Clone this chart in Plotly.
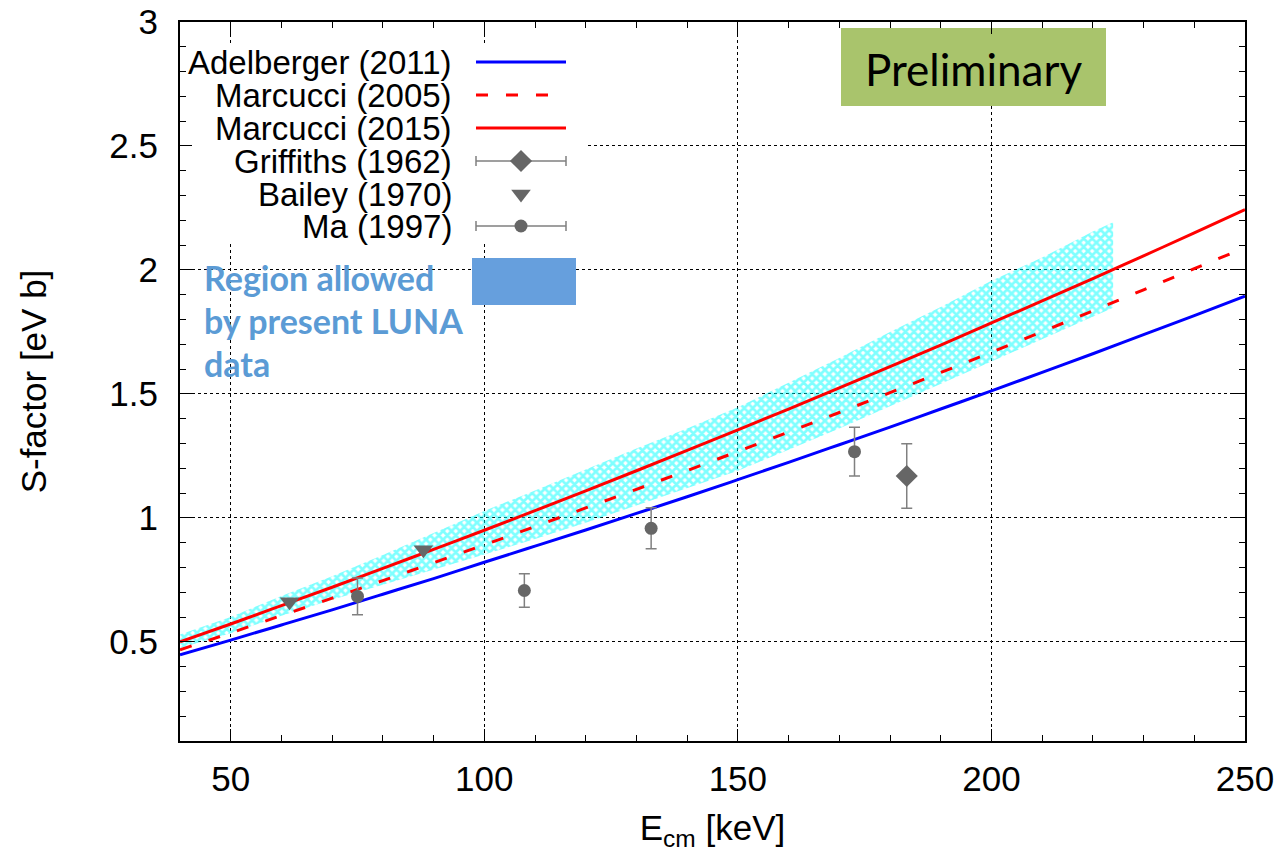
import plotly.graph_objects as go

# ---------------- data ----------------
E_curve = [40, 50, 60, 70, 80, 90, 100, 110, 120, 130, 140, 150, 160, 170, 180,
           190, 200, 210, 220, 230, 240, 250]
adelberger_2011 = [0.448, 0.507, 0.568, 0.629, 0.692, 0.755, 0.821, 0.886, 0.951, 1.018,
                   1.085, 1.154, 1.224, 1.295, 1.366, 1.439, 1.512, 1.587, 1.662, 1.739,
                   1.816, 1.894]
marcucci_2005 = [0.468, 0.536, 0.606, 0.676, 0.747, 0.819, 0.891, 0.965, 1.040, 1.115,
                 1.191, 1.268, 1.346, 1.425, 1.505, 1.586, 1.668, 1.751, 1.835, 1.920,
                 2.005, 2.090]
marcucci_2015 = [0.500, 0.572, 0.646, 0.720, 0.796, 0.873, 0.950, 1.029, 1.109, 1.190,
                 1.272, 1.355, 1.439, 1.524, 1.610, 1.697, 1.786, 1.875, 1.965, 2.057,
                 2.149, 2.243]

band_E = [40, 50, 60, 70, 80, 90, 100, 110, 120, 130, 140, 150, 160, 170, 180, 190,
          200, 210, 220, 224]
band_low = [0.475, 0.535, 0.605, 0.670, 0.730, 0.790, 0.852, 0.915, 0.980, 1.050,
            1.120, 1.190, 1.275, 1.360, 1.450, 1.540, 1.630, 1.720, 1.810, 1.847]
band_high = [0.530, 0.600, 0.685, 0.765, 0.850, 0.940, 1.028, 1.110, 1.195, 1.280,
             1.360, 1.446, 1.545, 1.645, 1.750, 1.850, 1.956, 2.050, 2.155, 2.192]

griffiths_E = [183.3]
griffiths_S = [1.169]
griffiths_err = [0.130]

bailey_E = [61.6, 88.0]
bailey_S = [0.662, 0.871]

ma_E = [75.0, 107.9, 132.9, 173.0]
ma_S = [0.683, 0.707, 0.958, 1.267]
ma_err = [0.074, 0.068, 0.083, 0.098]

legend_labels = ["Adelberger (2011)", "Marcucci (2005)", "Marcucci (2015)",
                 "Griffiths (1962)", "Bailey (1970)", "Ma (1997)"]

# ---------------- styling ----------------
BLUE = "#0000ff"
RED = "#ff0000"
MARK = "#666666"
ERR = "#808080"
FONT = "Liberation Sans, Arial, Helvetica, sans-serif"
CAL = "Lato, Open Sans, sans-serif"

W, H = 1284, 854
L, R, T, B = 180, 1245, 22, 741   # plot-area pixel frame
XR = [40, 250]
YR = [0.1, 3]


def px2x(px):
    return XR[0] + (px - L) * (XR[1] - XR[0]) / (R - L)


def py2y(py):
    return YR[1] - (py - T) * (YR[1] - YR[0]) / (B - T)


fig = go.Figure()

# allowed region (cross hatched band)
fig.add_trace(go.Scatter(x=band_E, y=band_low, mode="lines",
                         line=dict(width=0, color="rgba(0,0,0,0)"),
                         hoverinfo="skip", showlegend=False))
fig.add_trace(go.Scatter(x=band_E, y=band_high, mode="lines", fill="tonexty",
                         fillcolor="rgba(255,255,255,0)",
                         fillpattern=dict(shape="x", fgcolor="#00ffff",
                                          bgcolor="rgba(255,255,255,0)",
                                          size=6, solidity=0.7),
                         line=dict(width=0, color="rgba(0,0,0,0)"),
                         hoverinfo="skip", showlegend=False))

fig.add_trace(go.Scatter(x=E_curve, y=adelberger_2011, mode="lines",
                         line=dict(color=BLUE, width=3, shape="spline"),
                         showlegend=False))
fig.add_trace(go.Scatter(x=E_curve, y=marcucci_2005, mode="lines",
                         line=dict(color=RED, width=3, dash="12px,18px", shape="spline"),
                         showlegend=False))
fig.add_trace(go.Scatter(x=E_curve, y=marcucci_2015, mode="lines",
                         line=dict(color=RED, width=3, shape="spline"),
                         showlegend=False))

fig.add_trace(go.Scatter(x=griffiths_E, y=griffiths_S, mode="markers",
                         marker=dict(symbol="diamond", size=17, color=MARK),
                         error_y=dict(type="data", array=griffiths_err, color=ERR,
                                      thickness=1.5, width=5.5),
                         showlegend=False))
fig.add_trace(go.Scatter(x=bailey_E, y=bailey_S, mode="markers",
                         marker=dict(symbol="triangle-down", size=17, color=MARK),
                         showlegend=False))
fig.add_trace(go.Scatter(x=ma_E, y=ma_S, mode="markers",
                         marker=dict(symbol="circle", size=13, color=MARK),
                         error_y=dict(type="data", array=ma_err, color=ERR,
                                      thickness=1.5, width=5.5),
                         showlegend=False))

# ---------------- hand-made key (overlay pixel axes) ----------------
rows_y = [62, 95, 128, 161, 194, 226]
x0s, x1s, xm = 476, 566, 521

fig.add_trace(go.Scatter(x=[x0s, x1s], y=[rows_y[0]] * 2, mode="lines",
                         line=dict(color=BLUE, width=3), xaxis="x2", yaxis="y2",
                         showlegend=False, hoverinfo="skip"))
fig.add_trace(go.Scatter(x=[x0s, x1s], y=[rows_y[1]] * 2, mode="lines",
                         line=dict(color=RED, width=3, dash="12px,18px"),
                         xaxis="x2", yaxis="y2", showlegend=False, hoverinfo="skip"))
fig.add_trace(go.Scatter(x=[x0s, x1s], y=[rows_y[2]] * 2, mode="lines",
                         line=dict(color=RED, width=3), xaxis="x2", yaxis="y2",
                         showlegend=False, hoverinfo="skip"))
fig.add_trace(go.Scatter(x=[xm], y=[rows_y[3]], mode="markers",
                         marker=dict(symbol="diamond", size=17, color=MARK),
                         error_x=dict(type="constant", value=45, color=ERR,
                                      thickness=1.5, width=5),
                         xaxis="x2", yaxis="y2", showlegend=False, hoverinfo="skip"))
fig.add_trace(go.Scatter(x=[xm], y=[rows_y[4]], mode="markers",
                         marker=dict(symbol="triangle-down", size=17, color=MARK),
                         xaxis="x2", yaxis="y2", showlegend=False, hoverinfo="skip"))
fig.add_trace(go.Scatter(x=[xm], y=[rows_y[5]], mode="markers",
                         marker=dict(symbol="circle", size=13, color=MARK),
                         error_x=dict(type="constant", value=45, color=ERR,
                                      thickness=1.5, width=5),
                         xaxis="x2", yaxis="y2", showlegend=False, hoverinfo="skip"))

annotations = []
for lab, yy in zip(legend_labels, rows_y):
    annotations.append(dict(x=454, y=yy, xref="x2", yref="y2", text=lab,
                            showarrow=False, xanchor="right", yanchor="middle",
                            font=dict(family=FONT, size=33, color="black")))

LUNA = "#5b9bd5"
for txt, yy in zip(["Region allowed", "by present LUNA", "data"], [277, 320, 363]):
    annotations.append(dict(x=202, y=yy, xref="x2", yref="y2", text="<b>%s</b>" % txt,
                            showarrow=False, xanchor="left", yanchor="middle",
                            font=dict(family=CAL, size=34, color=LUNA)))

annotations.append(dict(x=973, y=69, xref="x2", yref="y2", text="Preliminary",
                        showarrow=False, xanchor="center", yanchor="middle",
                        font=dict(family=CAL, size=44, color="black")))

shapes = [
    # opaque key background (hides grid lines)
    dict(type="rect", xref="x", yref="y", x0=px2x(182), x1=px2x(585),
         y0=py2y(45), y1=py2y(243), fillcolor="white", line=dict(width=0),
         layer="between"),
    # preliminary box
    dict(type="rect", xref="x", yref="y", x0=px2x(841), x1=px2x(1106),
         y0=py2y(28), y1=py2y(106), fillcolor="#a9c46c", line=dict(width=0),
         layer="between"),
    # colour swatch for the allowed region
    dict(type="rect", xref="x", yref="y", x0=px2x(472), x1=px2x(576),
         y0=py2y(258), y1=py2y(305), fillcolor="#669fdd", line=dict(width=0),
         layer="above"),
]

axis_common = dict(
    showline=True, linewidth=2, linecolor="black", mirror="ticks",
    ticks="inside", ticklen=12, tickwidth=1, tickcolor="black",
    showgrid=True, gridcolor="black", gridwidth=1, griddash="dot",
    zeroline=False, automargin=False,
    tickfont=dict(family=FONT, size=35, color="black"),
)

fig.update_layout(
    width=W, height=H,
    margin=dict(l=L, r=W - R, t=T, b=H - B),
    paper_bgcolor="white", plot_bgcolor="white",
    xaxis=dict(range=XR, dtick=50, tick0=0,
               minor=dict(ticks="inside", ticklen=6, dtick=10, tickcolor="black",
                          showgrid=False),
               ticklabelstandoff=6,
               title=dict(text="E<sub>cm</sub> [keV]", standoff=18,
                          font=dict(family=FONT, size=35, color="black")),
               **axis_common),
    yaxis=dict(range=YR, dtick=0.5, tick0=0,
               minor=dict(ticks="inside", ticklen=6, dtick=0.1, tickcolor="black",
                          showgrid=False),
               ticklabelstandoff=13,
               title=dict(text="S-factor [eV b]", standoff=52,
                          font=dict(family=FONT, size=35, color="black")),
               **axis_common),
    xaxis2=dict(overlaying="x", anchor="y2", range=[L, R], visible=False,
                fixedrange=True, automargin=False),
    yaxis2=dict(overlaying="y", anchor="x2", range=[B, T], visible=False,
                fixedrange=True, automargin=False),
    annotations=annotations,
    shapes=shapes,
)

fig.write_html("out.html")
